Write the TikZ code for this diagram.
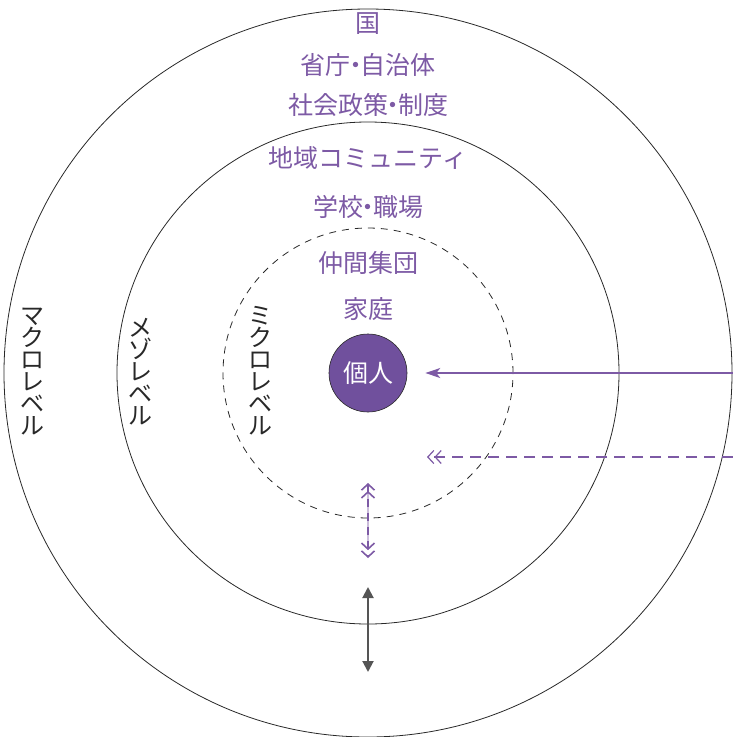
\documentclass[tikz,border=0pt]{standalone}
\usepackage{fontspec}
\setmainfont{Noto Sans CJK JP}
\usetikzlibrary{arrows.meta}
\definecolor{vio}{RGB}{125,90,165}
\definecolor{viofill}{RGB}{112,80,157}
\definecolor{darkg}{RGB}{85,85,85}
\definecolor{ink}{RGB}{40,40,40}
\newcommand{\nakaguro}{\hspace{-0.3em}・\hspace{-0.3em}}
\begin{document}
\begin{tikzpicture}[x=1pt,y=-1pt,
  ring/.style={circle,draw=ink,line width=0.8pt,inner sep=0pt},
  lbl/.style={text=vio,font=\fontsize{25}{25}\selectfont,inner sep=0pt},
  vlbl/.style={text=ink,font=\fontsize{24}{22}\selectfont,align=center,inner sep=0pt},
  parrow/.style={draw=vio,line width=1.2pt}]
\useasboundingbox (0,0) rectangle (733,737);
\node[ring,minimum size=728pt] (macro) at (368,373) {};
\node[ring,minimum size=502pt] (meso) at (368,373) {};
\node[ring,dash pattern=on 7pt off 6pt,minimum size=290pt] (micro) at (368,373) {};
\node[circle,fill=viofill,draw=ink,line width=0.6pt,minimum size=78pt,inner sep=0pt,text=white,font=\fontsize{25}{25}\selectfont] (ind) at (368,373) {個人};
% labels
\node[lbl] (t1) at (368,24) {国};
\node[lbl] (t2) at (368,65) {省庁\nakaguro 自治体};
\node[lbl] (t3) at (368,105) {社会政策\nakaguro 制度};
\node[lbl] (t4) at (368,158) {地域コミュニティ};
\node[lbl] (t5) at (368,207) {学校\nakaguro 職場};
\node[lbl] (t6) at (368,263) {仲間集団};
\node[lbl] (t7) at (368,309) {家庭};
\node[vlbl] (v1) at (32,372) {マ\\ク\\ロ\\レ\\ベ\\ル};
\node[vlbl] (v2) at (140,372) {メ\\ゾ\\レ\\ベ\\ル};
\node[vlbl] (v3) at (260,371) {ミ\\ク\\ロ\\レ\\ベ\\ル};
% arrows
\coordinate (s1) at (733,373);
\draw[parrow,-{Stealth[length=15pt,width=10pt,inset=4pt]}] (s1) -- ([xshift=18pt]ind.east);
\coordinate (s2) at (733,457);
\coordinate (e2) at (427,457);
\draw[parrow,dash pattern=on 11pt off 7pt,-{Straight Barb[length=6pt,width=13pt]Straight Barb[length=6pt,width=13pt]}] (s2) -- (e2);
\coordinate (a1) at (368,483);
\coordinate (a2) at (368,558);
\draw[vio!40,line width=1.6pt] ([yshift=-8pt]a1) -- ([yshift=8pt]a2);
\draw[vio,line width=1.6pt,dash pattern=on 8pt off 6pt,{Straight Barb[length=6pt,width=13pt]Straight Barb[length=6pt,width=13pt]}-{Straight Barb[length=6pt,width=13pt]Straight Barb[length=6pt,width=13pt]}] (a1) -- (a2);
\coordinate (g1) at (368,587);
\coordinate (g2) at (368,672);
\draw[darkg,line width=2pt,{Triangle[length=11pt,width=11pt]}-{Triangle[length=11pt,width=11pt]}] (g1) -- (g2);
\end{tikzpicture}
\end{document}
